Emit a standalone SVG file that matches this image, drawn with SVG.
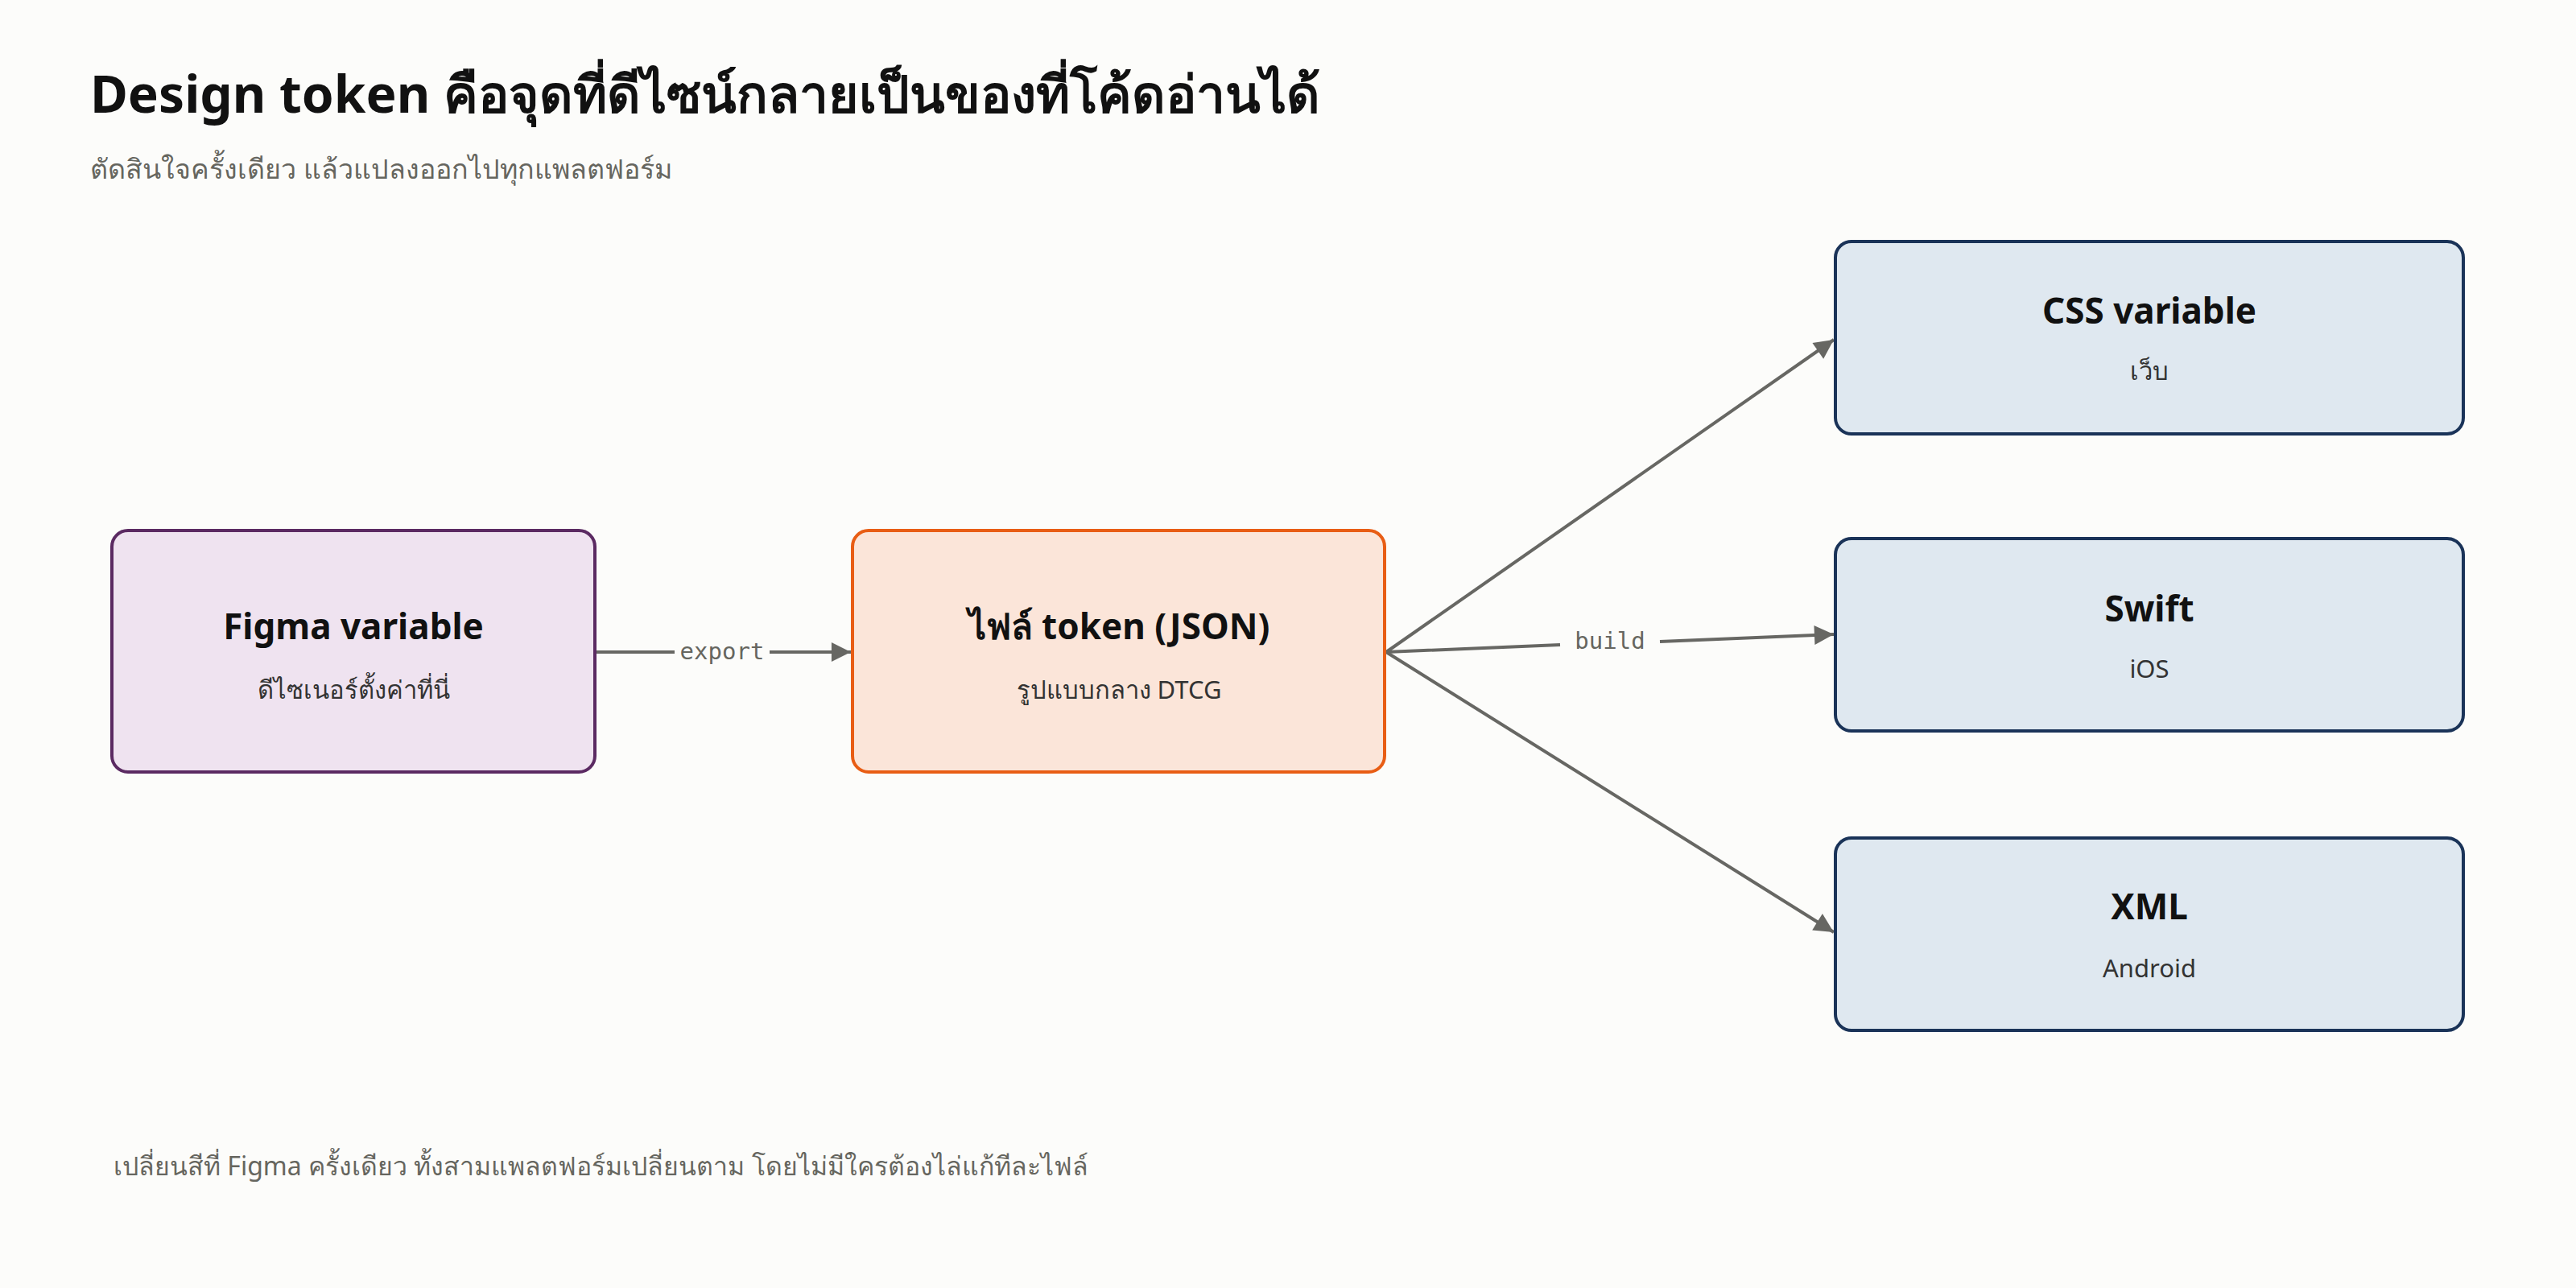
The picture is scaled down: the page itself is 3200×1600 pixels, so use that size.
<svg xmlns="http://www.w3.org/2000/svg" width="3200" height="1600" viewBox="0 0 3200 1600">
<style>
text{font-family:"Noto Sans","DejaVu Sans",sans-serif}
.t{font-size:64px;font-weight:700;fill:#111}
.st{font-size:34px;fill:#66665f}
.nt{font-size:44px;font-weight:700;fill:#111;text-anchor:middle}
.ns{font-size:31px;fill:#333;text-anchor:middle}
.lbl{font-family:"DejaVu Sans Mono","Liberation Mono",monospace;font-size:29px;fill:#66665f;text-anchor:middle}
.c{stroke:#676763;stroke-width:4;fill:none;marker-end:url(#a)}
.p{fill:#efe3f0;stroke:#5b2a62;stroke-width:4}
.o{fill:#fbe5d9;stroke:#e85d14;stroke-width:4}
.b{fill:#dfe8f0;stroke:#1a3358;stroke-width:4}
</style>
<defs><marker id="a" viewBox="0 0 10 10" refX="10" refY="5" markerWidth="8" markerHeight="8" markerUnits="userSpaceOnUse" orient="auto" style="overflow:visible"><path d="M0,0L10,5L0,10z" fill="#676763" transform="scale(3)translate(-6.7,-3.3)"/></marker></defs>
<rect width="3200" height="1600" fill="#fcfcfa"/>
<text class="t" x="112" y="140">Design token คือจุดที่ดีไซน์กลายเป็นของที่โค้ดอ่านได้</text>
<text class="st" x="112" y="222">ตัดสินใจครั้งเดียว แล้วแปลงออกไปทุกแพลตฟอร์ม</text>
<g id="connectors">
<path class="c" d="M739,810H838M956,810H1057"/>
<text class="lbl" x="897" y="819">export</text>
<path class="c" d="M1722,810L1938,801M2062,797L2278,788"/>
<text class="lbl" x="2000" y="806">build</text>
<path class="c" d="M1722,810L2278,422"/>
<path class="c" d="M1722,810L2278,1158"/>
</g>
<g id="figma"><rect class="p" x="139" y="659" width="600" height="300" rx="20"/><text class="nt" x="439" y="794">Figma variable</text><text class="ns" x="439" y="868">ดีไซเนอร์ตั้งค่าที่นี่</text></g>
<g id="json"><rect class="o" x="1059" y="659" width="661" height="300" rx="20"/><text class="nt" x="1390" y="794">ไฟล์ token (JSON)</text><text class="ns" x="1390" y="868">รูปแบบกลาง DTCG</text></g>
<g id="css"><rect class="b" x="2280" y="300" width="780" height="239" rx="20"/><text class="nt" x="2670" y="402">CSS variable</text><text class="ns" x="2670" y="472">เว็บ</text></g>
<g id="swift"><rect class="b" x="2280" y="669" width="780" height="239" rx="20"/><text class="nt" x="2670" y="772">Swift</text><text class="ns" x="2670" y="842">iOS</text></g>
<g id="xml"><rect class="b" x="2280" y="1041" width="780" height="239" rx="20"/><text class="nt" x="2670" y="1142">XML</text><text class="ns" x="2670" y="1214">Android</text></g>
<text class="st" x="141" y="1460" style="font-size:32px">เปลี่ยนสีที่ Figma ครั้งเดียว ทั้งสามแพลตฟอร์มเปลี่ยนตาม โดยไม่มีใครต้องไล่แก้ทีละไฟล์</text>
</svg>
